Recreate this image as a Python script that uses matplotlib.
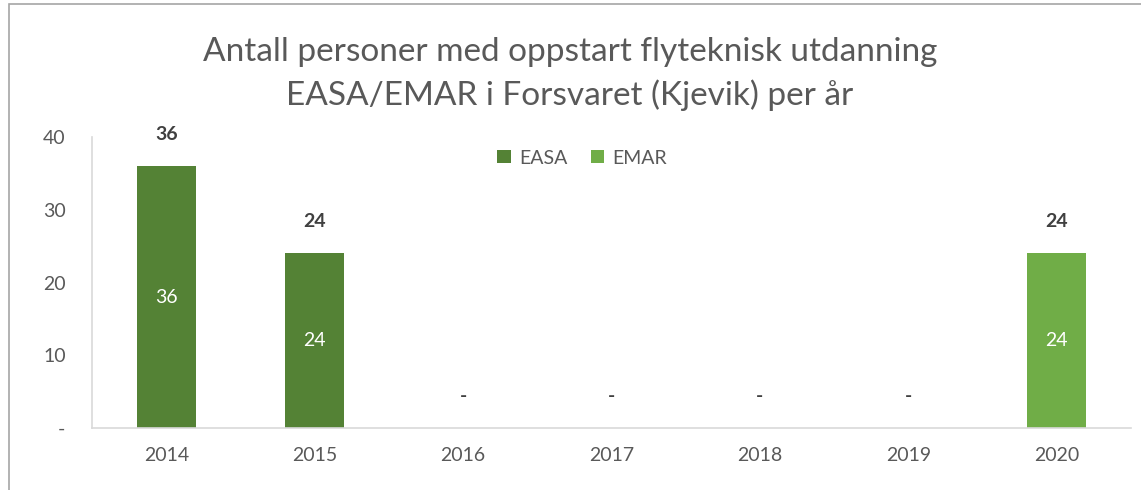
import numpy as np
import matplotlib.pyplot as plt
from matplotlib.patches import Rectangle

# Data
years = ['2014', '2015', '2016', '2017', '2018', '2019', '2020']
easa = [36, 24, 0, 0, 0, 0, 0]
emar = [0, 0, 0, 0, 0, 0, 24]
y_ticks = [0, 10, 20, 30, 40]
y_tick_labels = ['-', '10', '20', '30', '40']

plt.rcParams['font.family'] = ['Lato', 'DejaVu Sans']
grey_text = '#595959'

fig = plt.figure(figsize=(11.41, 4.90), dpi=100)
ax = fig.add_axes([92 / 1141, 62 / 490, 1039 / 1141, 291 / 490])

x = np.arange(len(years))
w = 0.4
ax.bar(x, easa, w, color='#548235', label='EASA')
ax.bar(x, emar, w, bottom=easa, color='#70AD47', label='EMAR')

# offset for the total labels, in data units (about 32 px)
off = 32 / 291 * 40
totals = [a + b for a, b in zip(easa, emar)]
for i, t in enumerate(totals):
    txt = str(t) if t > 0 else '-'
    ax.text(x[i], t + off, txt, ha='center', va='center', fontsize=14,
            fontweight='bold', color='#404040')
    # segment labels inside bars
    if easa[i] > 0:
        ax.text(x[i], easa[i] / 2, str(easa[i]), ha='center', va='center',
                fontsize=14, color='white')
    if emar[i] > 0:
        ax.text(x[i], easa[i] + emar[i] / 2, str(emar[i]), ha='center',
                va='center', fontsize=14, color='white')

ax.set_xlim(-0.5, len(years) - 0.5)
ax.set_ylim(0, 40)
ax.set_xticks(x)
ax.set_xticklabels(years)
ax.set_yticks(y_ticks)
ax.set_yticklabels(y_tick_labels)
ax.tick_params(axis='both', length=0, labelsize=14, colors=grey_text)
ax.tick_params(axis='y', pad=19)
ax.tick_params(axis='x', pad=14)

for s in ['top', 'right']:
    ax.spines[s].set_visible(False)
ax.spines['left'].set_color('#D9D9D9')
ax.spines['bottom'].set_color('#D9D9D9')
ax.spines['left'].set_linewidth(1.2)
ax.spines['bottom'].set_linewidth(1.2)

leg = ax.legend(loc='center', bbox_to_anchor=(582 / 1141, 1 - 158 / 490),
                bbox_transform=fig.transFigure, ncol=2, frameon=False,
                fontsize=14, handlelength=0.7, handleheight=0.7,
                handletextpad=0.4, columnspacing=1.2)
for t in leg.get_texts():
    t.set_color(grey_text)

fig.text(570 / 1141, 1 - 74 / 490,
         'Antall personer med oppstart flyteknisk utdanning\nEASA/EMAR i Forsvaret (Kjevik) per år',
         ha='center', va='center', fontsize=24, color=grey_text, linespacing=1.45)

# chart border (partly cropped in the reference)
fig.patches.append(Rectangle((9 / 1141, -0.1), 1.2, 1 - 4 / 490 + 0.1,
                             transform=fig.transFigure, fill=False,
                             edgecolor='#A6A6A6', linewidth=1.2))

fig.savefig('out.png', dpi=100)
